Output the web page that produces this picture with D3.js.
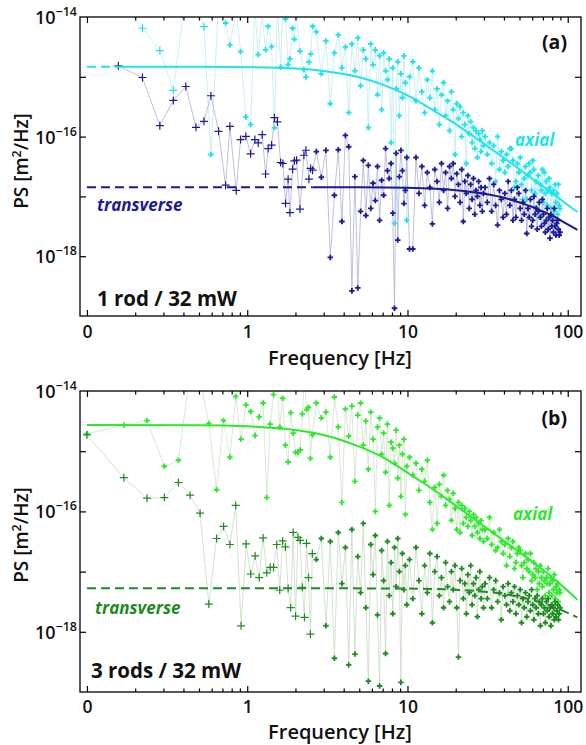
<!DOCTYPE html>
<html><head><meta charset="utf-8">
<script src="https://cdn.jsdelivr.net/npm/d3@7"></script>
<style>
body{margin:0;background:#fff}
text{font-family:'Open Sans',sans-serif}
</style></head>
<body><svg id="chart" width="586" height="745"></svg>
<script>
// ---------- DATA (PS values stored as log10 of PS in m^2/Hz) ----------
// Panel (a): 1 rod / 32 mW — low-frequency bins
const freqA_lo = [0.157,0.222,0.285,0.346,0.414,0.479,0.537,0.594,0.663,0.733,0.78,0.854,0.909,0.981,1.05,1.117,1.171,1.241,1.302,1.352,1.42,1.478,1.543,1.616,1.67,1.736,1.8,1.847,1.92,1.97,2.033,2.133,2.258,2.324,2.427,2.487,2.559];
const axialA_lo = [-13.7,-14.188,-14.562,-15.228,-13.6,-13.8,-14.162,-16.3,-13.7,-14.1,-14.467,-13.9,-14.578,-15.67,-15.8,-13.85,-14.628,-13.95,-14.55,-14.155,-14.495,-15.855,-13.8,-14.838,-13.9,-14.033,-14.795,-14.7,-14.188,-14.372,-13.95,-14.57,-14.883,-15.005,-14.755,-14.62,-14.155];
const transA_lo = [-14.817,-15.012,-15.817,-15.395,-15.162,-15.845,-15.745,-15.317,-15.912,-16.812,-15.828,-16.9,-16.05,-15.995,-16.288,-16.05,-16.105,-15.967,-16.625,-16.2,-16.142,-15.683,-15.755,-16.433,-16.45,-17.117,-16.712,-17.272,-16.545,-16.405,-16.395,-17.212,-16.312,-16.228,-16.712,-16.533,-16.562];

// Panel (b): 3 rods / 32 mW — low-frequency bins (first bin is f = 0)
const freqB_lo = [0,0.17,0.237,0.304,0.372,0.44,0.508,0.576,0.644,0.712,0.78,0.848,0.916,0.984,1.052,1.12,1.188,1.256,1.324,1.392,1.46,1.528,1.596,1.664,1.732,1.8,1.868,1.936,2.004,2.072,2.14,2.208,2.276,2.344,2.412,2.48,2.548];
const axialB_lo = [-14.71,-14.565,-14.49,-15.25,-15.15,-13.7,-13.8,-14.54,-15.64,-14.49,-15.1,-14.09,-14.8,-14.23,-14.34,-14.74,-14.43,-14.2,-15.77,-14.55,-14.06,-13.7,-14.6,-14.12,-14.9,-15.18,-14.36,-14.7,-15.02,-15.02,-14.98,-14.38,-13.8,-14.31,-14.27,-15.12,-14.73];
const transB_lo = [-14.73,-15.44,-15.78,-15.77,-15.52,-15.73,-16.03,-17.54,-16.45,-16.25,-16.55,-15.9,-17.9,-16.54,-17.04,-16.74,-17.1,-16.44,-17.02,-16.93,-16.93,-16.55,-17.31,-16.49,-16.59,-17.28,-17.6,-16.35,-17.74,-16.43,-16.48,-17.26,-17.76,-16.53,-17.1,-18.04,-16.7];

// Higher-frequency bins (shared by both panels)
const freqHi = [
 2.7,2.9,3.1,3.3,3.5,3.7,3.9,4.1,4.3,4.5,4.7,4.9,5.1,5.3,5.5,5.7,5.9,6.1,6.3,6.5,6.7,6.9,7.1,7.3,7.5,7.7,7.9,8.1,8.3,8.5,8.7,8.9,9.1,9.3,9.5,9.7,9.9,
 10.3,10.8,11.3,11.8,12.3,12.8,13.3,13.8,14.3,14.8,15.3,15.8,16.3,16.8,17.3,17.8,18.3,18.8,19.3,19.8,20.3,20.8,21.3,21.8,22.3,22.8,23.3,23.8,24.3,24.8,25.3,25.8,26.3,26.8,27.3,27.8,28.3,28.8,29.3,29.8,
 30.5,31.5,32.5,33.5,34.5,35.5,36.5,37.5,38.5,39.5,40.5,41.5,42.5,43.5,44.5,45.5,46.5,47.5,48.5,49.5,50.5,51.5,52.5,53.5,54.5,55.5,56.5,57.5,58.5,59.5,
 60.5,61.5,62.5,63.5,64.5,65.5,66.5,67.5,68.5,69.5,70.5,71.5,72.5,73.5,74.5,75.5,76.5,77.5,78.5,79.5,80.5,81.5,82.5,83.5,84.5,85.5,86.5,87.5,88.5,89.5];
const axialA_hi = [
 -14.25,-14.95,-14.4,-15.45,-14.6,-14.3,-14.85,-14.5,-15.6,-14.45,-14.9,-14.35,-15.15,-14.55,-14.7,-15.85,-14.45,-14.8,-14.55,-15.3,-14.65,-15.55,-14.6,-14.9,-15.05,-14.7,-16.1,-14.85,-17.45,-15.2,-14.75,-15.65,-14.95,-15.35,-14.65,-15.1,-17.4,
 -15.0,-14.75,-15.4,-14.85,-15.25,-15.6,-15.05,-15.35,-14.9,-15.55,-15.2,-15.8,-15.3,-15.1,-15.65,-15.4,-15.9,-15.25,-15.55,-16.3,-15.45,-15.7,-15.5,-16.0,-15.6,-15.8,-16.45,-15.65,-15.95,-15.75,-16.1,-15.85,-16.2,-15.9,-16.35,-15.95,-16.05,-16.25,-15.9,-16.15,
 -16.0,-16.3,-16.1,-16.45,-16.15,-16.75,-16.0,-16.55,-16.25,-16.4,-16.6,-16.3,-16.5,-16.2,-16.2,-16.4,-16.85,-16.75,-16.45,-16.6,-16.35,-16.8,-17.05,-16.7,-16.5,-17.05,-16.65,-16.45,-16.6,-16.9,
 -16.4,-16.55,-16.95,-16.75,-17.2,-16.65,-17.35,-16.8,-16.9,-16.55,-17.1,-16.6,-16.95,-16.75,-17.15,-16.9,-16.7,-16.85,-17.2,-16.95,-17.4,-16.9,-17.25,-16.8,-17.1,-16.95,-17.3,-16.8,-17.15,-17.2];
const transA_hi = [
 -16.25,-16.68,-16.23,-18.02,-16.98,-16.22,-17.42,-15.98,-16.17,-18.58,-16.67,-18.53,-17.25,-16.4,-17.32,-16.48,-17.2,-16.78,-17.07,-16.5,-17.4,-16.73,-16.98,-16.2,-16.57,-16.7,-16.45,-17.28,-18.87,-16.28,-17.73,-16.67,-16.23,-16.57,-17.12,-16.9,-16.35,
 -17.88,-17.88,-16.35,-16.95,-16.5,-17.15,-16.6,-16.85,-17.46,-16.55,-16.75,-17.1,-16.45,-16.9,-16.6,-17.2,-16.5,-16.7,-16.45,-17.0,-16.62,-16.8,-17.1,-16.55,-17.42,-16.75,-16.95,-16.65,-17.2,-16.8,-17.05,-16.7,-17.3,-16.9,-17.0,-16.75,-17.15,-16.85,-17.25,-16.95,
 -16.85,-17.1,-16.7,-17.25,-16.8,-17.15,-17.48,-16.9,-17.05,-17.35,-16.95,-17.3,-16.75,-17.15,-16.9,-17.4,-17.05,-17.35,-16.85,-16.95,-17.2,-17.4,-17.1,-17.3,-16.9,-17.62,-17.2,-17.35,-17.05,-17.5,
 -17.4,-17.0,-17.3,-17.2,-17.55,-17.25,-17.1,-17.35,-17.5,-17.05,-17.3,-17.45,-17.6,-17.4,-17.2,-17.55,-17.35,-17.7,-17.3,-17.5,-17.4,-17.6,-17.2,-17.5,-17.65,-17.45,-17.4,-17.55,-17.65,-17.6];
const axialB_hi = [
 -14.2,-14.45,-14.35,-15.1,-14.1,-14.6,-15.85,-14.3,-14.75,-14.25,-15.5,-14.4,-14.2,-14.9,-14.5,-15.3,-14.35,-14.8,-16.0,-14.6,-14.45,-15.05,-14.7,-15.35,-14.55,-15.9,-14.85,-14.95,-15.2,-14.65,-15.45,-14.9,-15.75,-15.05,-14.8,-16.05,-15.25,
 -15.1,-15.4,-15.2,-15.65,-15.3,-15.5,-15.15,-15.85,-16.3,-15.6,-16.2,-15.55,-15.75,-15.4,-15.9,-15.65,-15.8,-16.15,-15.7,-15.95,-16.3,-15.85,-16.35,-15.9,-16.2,-15.95,-16.1,-16.25,-16.0,-16.15,-16.4,-16.05,-16.25,-16.1,-16.35,-16.2,-16.45,-16.15,-16.3,-16.5,
 -16.3,-16.45,-16.1,-16.55,-16.35,-16.65,-16.6,-16.3,-16.5,-16.7,-16.55,-16.9,-16.45,-16.75,-16.6,-16.5,-16.95,-16.85,-16.7,-16.6,-16.65,-16.9,-17.1,-16.85,-16.7,-16.95,-16.8,-17.0,-16.7,-17.15,
 -17.05,-16.85,-17.1,-16.95,-17.3,-17.0,-17.2,-16.9,-17.1,-17.25,-17.0,-17.15,-17.4,-17.1,-17.2,-16.95,-17.35,-17.2,-17.1,-17.4,-17.15,-17.3,-17.05,-17.45,-17.25,-17.35,-17.2,-17.5,-17.3,-17.35];
const transB_hi = [
 -16.8,-16.45,-17.9,-16.5,-18.44,-16.35,-17.2,-16.6,-18.55,-16.3,-18.37,-16.75,-17.35,-16.2,-17.6,-18.82,-16.55,-17.05,-16.4,-17.72,-18.9,-16.65,-17.15,-18.36,-16.5,-17.4,-16.85,-17.7,-16.6,-17.25,-16.45,-17.0,-18.84,-16.7,-17.3,-16.9,-17.55,
 -16.8,-17.45,-16.6,-17.15,-17.7,-16.9,-17.35,-16.7,-17.85,-17.0,-16.75,-17.4,-17.1,-17.6,-16.85,-17.25,-17.5,-17.0,-17.3,-16.9,-17.6,-18.42,-17.15,-16.95,-17.45,-17.2,-17.7,-17.05,-17.35,-16.9,-17.55,-17.2,-17.4,-17.1,-17.75,-17.3,-17.0,-17.45,-17.25,-17.6,
 -17.2,-17.45,-17.1,-17.6,-17.3,-17.15,-17.5,-17.35,-17.8,-17.25,-17.4,-17.55,-17.2,-17.65,-17.35,-17.5,-17.25,-17.7,-17.4,-17.55,-17.3,-17.85,-17.45,-17.6,-17.35,-17.75,-17.5,-17.4,-17.65,-17.3,
 -17.55,-17.8,-17.45,-17.6,-17.4,-17.7,-17.5,-17.9,-17.55,-17.45,-17.7,-17.6,-17.85,-17.5,-17.65,-17.45,-17.75,-17.6,-17.9,-17.55,-17.7,-17.6,-17.8,-17.5,-17.75,-17.65,-17.55,-17.8,-17.7,-17.6];

// Lorentzian fit curves (log10 PS)
const fitAxialA_f = [0.1,0.157,0.5,1,2,3,5,7,10,15,20,30,40,50,70,85,100,115];
const fitAxialA_v = [-14.83,-14.83,-14.833,-14.839,-14.863,-14.903,-15.009,-15.131,-15.31,-15.585,-15.79,-16.119,-16.357,-16.545,-16.833,-17.0,-17.143,-17.26];
const fitTransA_f = [0.1,1,2.56,5,10,20,30,40,50,60,70,80,100,115];
const fitTransA_v = [-16.845,-16.845,-16.846,-16.848,-16.857,-16.896,-16.955,-17.022,-17.102,-17.174,-17.252,-17.319,-17.469,-17.56];
const fitAxialB_f = [0.1,0.5,1,2,3,5,7,10,15,20,30,40,50,70,100,115];
const fitAxialB_v = [-14.565,-14.57,-14.587,-14.648,-14.73,-14.924,-15.097,-15.357,-15.666,-15.903,-16.244,-16.488,-16.678,-16.97,-17.32,-17.47];
const fitTransB_f = [0.1,1,10,20,30,40,50,60,70,80,100,115];
const fitTransB_v = [-17.276,-17.276,-17.282,-17.302,-17.333,-17.373,-17.419,-17.47,-17.523,-17.577,-17.686,-17.762];

// Axis ticks
const xMajor = [0.1,1,10,100];
const xMajorLabels = ["0","1","10","100"];
const xMinor = [0.2,0.3,0.4,0.5,0.6,0.7,0.8,0.9,2,3,4,5,6,7,8,9,20,30,40,50,60,70,80,90];
const yDecades = [-18,-17,-16,-15];
const yLabelled = [-14,-16,-18];

// ---------- DRAWING ----------
const svg = d3.select('#chart');
const L = 80, R = 581;
const x = d3.scaleLog().domain([0.0905, 121]).range([L, R]);
const F0 = 0.1;               // the frequency-0 bin is drawn at the "0" tick
const fx = f => x(Math.max(f, F0));
const zip = (f, v) => f.map((ff, i) => ({f: ff, v: v[i]})).filter(d => d.v !== undefined);

const panels = [
  {id:'a', top:17, bottom:316, tag:'(a)', tagY:49, note:'1 rod / 32 mW', noteX:97, noteY:306,
   yLabelC:161, xTickY:338, xTitleY:364.5,
   series:[
     {name:'axial', f:freqA_lo.concat(freqHi), v:axialA_lo.concat(axialA_hi), color:'#1ee3ec', line:'#bfecf0', crossMax:0.56},
     {name:'transverse', f:freqA_lo.concat(freqHi), v:transA_lo.concat(transA_hi), color:'#1c1c96', line:'#aeaed8', crossMax:2.6}
   ],
   fits:[
     {f:fitAxialA_f, v:fitAxialA_v, color:'#22e3ec', dashUntil:0.157},
     {f:fitTransA_f, v:fitTransA_v, color:'#1a1a8e', dashUntil:2.56}
   ],
   labels:[
     {t:'axial', x:515, y:146, color:'#1ee3ec'},
     {t:'transverse', x:97, y:211, color:'#1c1c96'}
   ]},
  {id:'b', top:391, bottom:692, tag:'(b)', tagY:425, note:'3 rods / 32 mW', noteX:91, noteY:678,
   yLabelC:535, xTickY:712.5, xTitleY:739,
   series:[
     {name:'axial', f:freqB_lo.concat(freqHi), v:axialB_lo.concat(axialB_hi), color:'#2ee82e', line:'#cfe2c8', crossMax:-1},
     {name:'transverse', f:freqB_lo.concat(freqHi), v:transB_lo.concat(transB_hi), color:'#1f8a1f', line:'#c8dac2', crossMax:2.6}
   ],
   fits:[
     {f:fitAxialB_f, v:fitAxialB_v, color:'#2ee82e', dashUntil:0},
     {f:fitTransB_f, v:fitTransB_v, color:'#1f8a1f', dashUntil:200}
   ],
   labels:[
     {t:'axial', x:513, y:520, color:'#2ee82e'},
     {t:'transverse', x:95, y:614, color:'#1f8a1f'}
   ]}
];

const dotSym = d3.symbol().type(d3.symbolCross).size(17);

panels.forEach(p => {
  const y = d3.scaleLinear().domain([-19, -14]).range([p.bottom, p.top]);
  const clipId = 'clip' + p.id;
  svg.append('clipPath').attr('id', clipId).append('rect')
    .attr('x', L).attr('y', p.top).attr('width', R - L).attr('height', p.bottom - p.top);
  const plot = svg.append('g').attr('clip-path', `url(#${clipId})`);

  p.series.forEach(s => {
    const pts = zip(s.f, s.v);
    plot.append('path').datum(pts)
      .attr('d', d3.line().x(d => fx(d.f)).y(d => y(d.v)))
      .attr('fill', 'none').attr('stroke', s.line).attr('stroke-width', 0.8);
    const crosses = pts.filter(d => d.f <= s.crossMax);
    const dots = pts.filter(d => d.f > s.crossMax);
    plot.selectAll(null).data(dots).enter().append('path')
      .attr('d', dotSym).attr('transform', d => `translate(${fx(d.f)},${y(d.v)})`)
      .attr('fill', s.color);
    plot.selectAll(null).data(crosses).enter().append('path')
      .attr('d', 'M-4,0H4M0,-4V4').attr('transform', d => `translate(${fx(d.f)},${y(d.v)})`)
      .attr('stroke', s.color).attr('stroke-width', 1.2).attr('fill', 'none');
  });

  p.fits.forEach(ft => {
    const pts = zip(ft.f, ft.v);
    const line = d3.line().x(d => fx(d.f)).y(d => y(d.v)).curve(d3.curveMonotoneX);
    const dashed = pts.filter(d => d.f <= ft.dashUntil);
    const solid = pts.filter(d => d.f >= ft.dashUntil);
    if (dashed.length > 1) plot.append('path').datum(dashed).attr('d', line)
      .attr('fill', 'none').attr('stroke', ft.color).attr('stroke-width', 2).attr('stroke-dasharray', '9,5');
    if (solid.length > 1) plot.append('path').datum(solid).attr('d', line)
      .attr('fill', 'none').attr('stroke', ft.color).attr('stroke-width', 2);
  });

  // frame
  svg.append('rect').attr('x', L).attr('y', p.top).attr('width', R - L).attr('height', p.bottom - p.top)
    .attr('fill', 'none').attr('stroke', '#000').attr('stroke-width', 1.3);

  // x axes (ticks inward, bottom and top)
  const gxb = svg.append('g').attr('transform', `translate(0,${p.bottom})`)
    .call(d3.axisBottom(x).tickValues(xMajor).tickSize(-6).tickPadding(0).tickFormat((d, i) => xMajorLabels[i]));
  gxb.select('.domain').remove();
  gxb.selectAll('text').attr('dy', null).attr('y', p.xTickY - p.bottom)
    .attr('font-size', 17.5).attr('font-weight', 600).attr('font-family', "'Open Sans',sans-serif").attr('fill', '#111');
  const gxbm = svg.append('g').attr('transform', `translate(0,${p.bottom})`)
    .call(d3.axisBottom(x).tickValues(xMinor).tickSize(-3.5).tickFormat(''));
  gxbm.select('.domain').remove();
  const gxt = svg.append('g').attr('transform', `translate(0,${p.top})`)
    .call(d3.axisTop(x).tickValues(xMajor).tickSize(-6).tickFormat(''));
  gxt.select('.domain').remove();
  const gxtm = svg.append('g').attr('transform', `translate(0,${p.top})`)
    .call(d3.axisTop(x).tickValues(xMinor).tickSize(-3.5).tickFormat(''));
  gxtm.select('.domain').remove();

  // y axes
  const gyl = svg.append('g').attr('transform', `translate(${L},0)`)
    .call(d3.axisLeft(y).tickValues(yDecades).tickSize(-6).tickFormat(''));
  gyl.select('.domain').remove();
  const gyr = svg.append('g').attr('transform', `translate(${R},0)`)
    .call(d3.axisRight(y).tickValues(yDecades).tickSize(-6).tickFormat(''));
  gyr.select('.domain').remove();
  svg.selectAll('.tick line').attr('stroke', '#000').attr('stroke-width', 1.2);

  const yl = svg.append('g');
  yLabelled.forEach(v => {
    const t = yl.append('text').attr('x', 77).attr('y', y(v) + 7).attr('text-anchor', 'end')
      .attr('fill', '#111').attr('font-weight', 600);
    t.append('tspan').attr('font-size', 18).text('10');
    t.append('tspan').attr('font-size', 12.5).attr('dy', -8).text('\u2212' + Math.abs(v));
  });

  // axis titles
  const yt = svg.append('text').attr('transform', `translate(28,${p.yLabelC}) rotate(-90)`)
    .attr('text-anchor', 'middle').attr('font-size', 19).attr('font-weight', 600).attr('fill', '#111');
  yt.append('tspan').text('PS [m');
  yt.append('tspan').attr('font-size', 12.5).attr('dy', -7).text('2');
  yt.append('tspan').attr('dy', 7).text('/Hz]');
  svg.append('text').attr('x', 340).attr('y', p.xTitleY).attr('text-anchor', 'middle')
    .attr('font-size', 20).attr('font-weight', 600).attr('fill', '#111').text('Frequency [Hz]');

  // annotations
  svg.append('text').attr('x', 567).attr('y', p.tagY).attr('text-anchor', 'end')
    .attr('font-size', 19.5).attr('font-weight', 700).attr('fill', '#111').text(p.tag);
  svg.append('text').attr('x', p.noteX).attr('y', p.noteY)
    .attr('font-size', 20.5).attr('font-weight', 700).attr('fill', '#111').text(p.note);
  p.labels.forEach(lb => svg.append('text').attr('x', lb.x).attr('y', lb.y)
    .attr('font-size', 17).attr('font-weight', 700).attr('font-style', 'italic')
    .attr('fill', lb.color).text(lb.t));
});
</script>
</body></html>
